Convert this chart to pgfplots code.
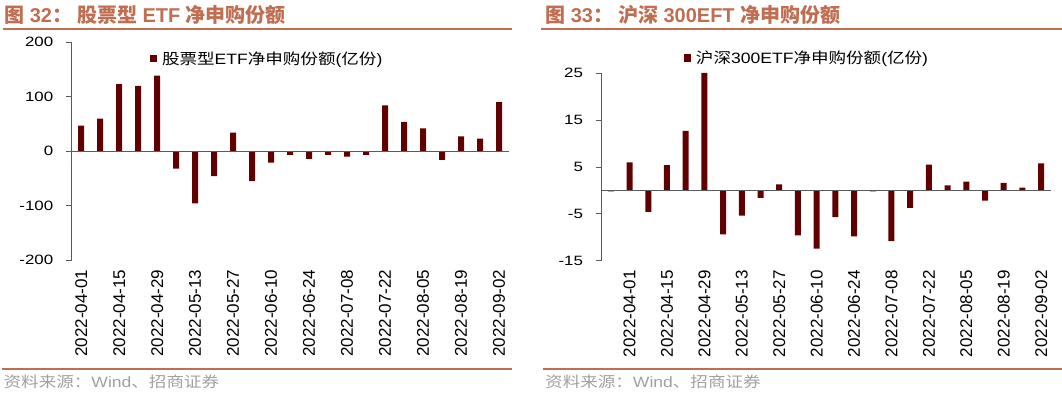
\documentclass[border=0pt]{standalone}
\usepackage{pgfplots}
\pgfplotsset{compat=1.18}
\usepackage{fontspec}
\setmainfont{Liberation Sans}
\newfontfamily\ylabf{Liberation Sans}[FakeStretch=1.25]
\newfontfamily\cjk{Noto Sans CJK SC}
\newfontfamily\cjkw{Noto Sans CJK SC}[FakeStretch=1.17]
\newfontfamily\latw{Liberation Sans}[FakeStretch=1.17]
\definecolor{barcol}{RGB}{96,0,0}
\definecolor{ttl}{RGB}{192,110,82}
\definecolor{axc}{RGB}{90,90,90}
\definecolor{src}{RGB}{160,160,160}
\pgfplotsset{
  mychart/.style={
    scale only axis, anchor=south west,
    axis lines*=left,
    x axis line style={draw=none},
    xtick style={draw=none},
    y axis line style={axc, line width=0.8pt},
    ytick style={axc, line width=0.8pt},
    tick align=outside, major tick length=6pt,
    xticklabel style={rotate=90, anchor=east, font=\fontsize{17}{17}\selectfont},
    yticklabel style={font=\ylabf\fontsize{13.5}{14}\selectfont, xshift=-9pt},
    ybar, bar width=6pt,
    clip=false,
    legend style={draw=none, fill=none, inner sep=0pt, outer sep=0pt, anchor=west,
      font=\fontsize{15}{16}\selectfont,
      nodes={inner sep=1.5pt}},
    legend cell align=left,
  },
  barstyle/.style={fill=barcol, draw=none,
    legend image code/.code={\fill[barcol] (0pt,-3.6pt) rectangle (7.2pt,3.6pt);
      \path (10.5pt,0pt);}},
}
\newcommand{\cw}[1]{{\cjkw #1}}
\newcommand{\lw}[1]{{\latw #1}}
\begin{document}
\begin{tikzpicture}[x=1pt,y=1pt]
\useasboundingbox (0,0) rectangle (1062,392);
% titles
\node[anchor=base west, inner sep=0pt, text=ttl, font=\fontsize{20}{20}\selectfont\bfseries] at (4,369.7)
  {{\cjk\bfseries 图} 32{\cjk\bfseries ：}\hspace{5pt}{\cjk\bfseries 股票型} ETF {\cjk\bfseries 净申购份额}};
\node[anchor=base west, inner sep=0pt, text=ttl, font=\fontsize{20}{20}\selectfont\bfseries] at (545,369.7)
  {{\cjk\bfseries 图} 33{\cjk\bfseries ：}\hspace{5pt}{\cjk\bfseries 沪深} 300EFT {\cjk\bfseries 净申购份额}};
\draw[ttl, line width=2pt] (2.5,363) -- (512,363);
\draw[ttl, line width=2pt] (541,363) -- (1062,363);
\draw[ttl, line width=2pt] (2,22.8) -- (512,22.8);
\draw[ttl, line width=2pt] (542.5,22.8) -- (1062,22.8);
\node[anchor=base west, inner sep=0pt, text=src, font=\fontsize{15}{15}\selectfont] at (3.5,4.8)
  {\cw{资料来源：}\lw{Wind}\cw{、招商证券}};
\node[anchor=base west, inner sep=0pt, text=src, font=\fontsize{15}{15}\selectfont] at (545,4.8)
  {\cw{资料来源：}\lw{Wind}\cw{、招商证券}};

% left chart
\begin{axis}[mychart,
  at={(71.7pt,132pt)}, width=436.8pt, height=217.7pt,
  xmin=-0.5, xmax=22.5, ymin=-200, ymax=200,
  xtick={0,2,...,22},
  xticklabels={2022-04-01,2022-04-15,2022-04-29,2022-05-13,2022-05-27,2022-06-10,2022-06-24,2022-07-08,2022-07-22,2022-08-05,2022-08-19,2022-09-02},
  ytick={-200,-100,0,100,200},
  yticklabels={-200,-100,0,100,200},
  legend style={at={(axis description cs:0.1793,0.925)}},
]
\addplot[barstyle] coordinates {
(0,47) (1,60) (2,123) (3,120) (4,139) (5,-32) (6,-96) (7,-46) (8,34) (9,-55)
(10,-21) (11,-7) (12,-14) (13,-7) (14,-10) (15,-7) (16,84) (17,54) (18,42)
(19,-16) (20,27) (21,23) (22,90)};
\addlegendentry{\cw{股票型}\lw{ETF}\cw{净申购份额}\lw{(}\cw{亿份}\lw{)}}
\draw[axc, line width=0.8pt] (axis cs:-0.5,0) -- (axis cs:22.5,0);
\end{axis}

% right chart
\begin{axis}[mychart,
  at={(601.5pt,131.3pt)}, width=449pt, height=187.4pt,
  xmin=-0.5, xmax=23.5, ymin=-15, ymax=25,
  xtick={1,3,...,23},
  xticklabels={2022-04-01,2022-04-15,2022-04-29,2022-05-13,2022-05-27,2022-06-10,2022-06-24,2022-07-08,2022-07-22,2022-08-05,2022-08-19,2022-09-02},
  ytick={-15,-5,5,15,25},
  yticklabels={-15,-5,5,15,25},
  legend style={at={(axis description cs:0.1837,1.0816)}},
]
\addplot[barstyle] coordinates {
(0,-0.2) (1,6.0) (2,-4.6) (3,5.4) (4,12.7) (5,25.1) (6,-9.4) (7,-5.4) (8,-1.6)
(9,1.3) (10,-9.6) (11,-12.4) (12,-5.7) (13,-9.8) (14,-0.2) (15,-10.8) (16,-3.7)
(17,5.5) (18,1.1) (19,1.9) (20,-2.2) (21,1.6) (22,0.6) (23,5.8)};
\addlegendentry{\cw{沪深}\lw{300ETF}\cw{净申购份额}\lw{(}\cw{亿份}\lw{)}}
\draw[axc, line width=0.8pt] (axis cs:-0.5,0) -- (axis cs:23.5,0);
\end{axis}
\end{tikzpicture}
\end{document}
